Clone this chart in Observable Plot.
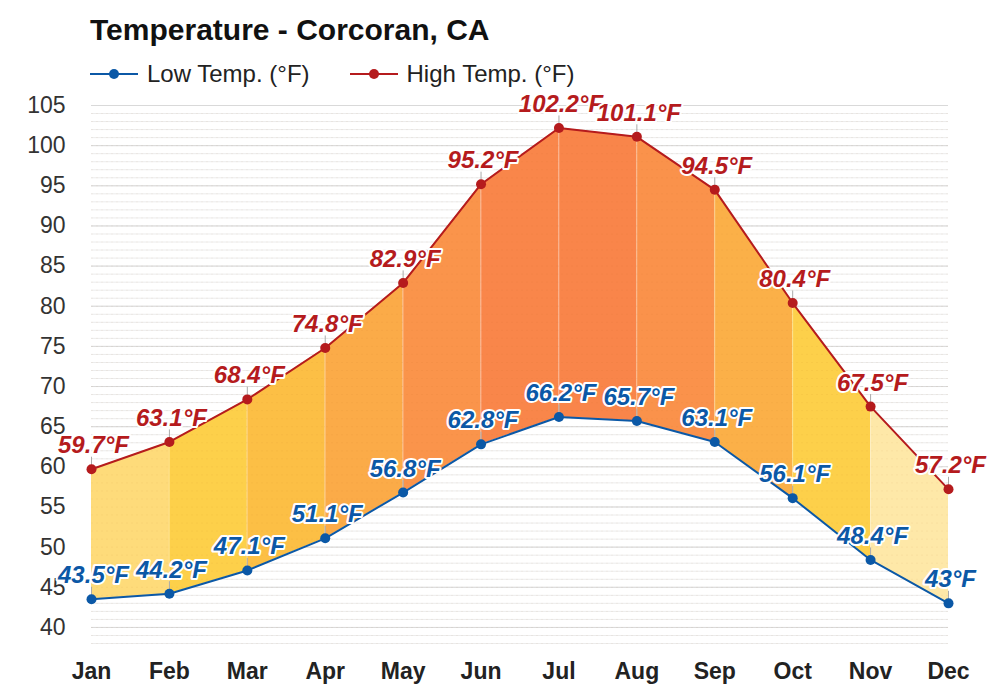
<!DOCTYPE html>
<html>
<head>
<meta charset="utf-8">
<script src="https://cdn.jsdelivr.net/npm/d3@7"></script>
<script src="https://cdn.jsdelivr.net/npm/@observablehq/plot@0.6"></script>
<style>
  html, body { margin: 0; padding: 0; background: #fff; }
  body { width: 1000px; height: 700px; overflow: hidden; font-family: "Liberation Sans", Arial, sans-serif; }
  #title { position: absolute; left: 90px; top: 13px; font-size: 30px; font-weight: bold; color: #111; }
  #legend { position: absolute; left: 90px; top: 60px; display: flex; align-items: center; font-size: 24px; color: #222; }
  .item { display: flex; align-items: center; margin-right: 40px; }
  .item svg { margin-right: 9px; }
  #chart { position: absolute; left: 0; top: 90px; }
</style>
</head>
<body>
<div id="title">Temperature - Corcoran, CA</div>
<div id="legend"></div>
<div id="chart"></div>
<script>
const months = ["Jan","Feb","Mar","Apr","May","Jun","Jul","Aug","Sep","Oct","Nov","Dec"];
const lowTemps = [43.5, 44.2, 47.1, 51.1, 56.8, 62.8, 66.2, 65.7, 63.1, 56.1, 48.4, 43.0];
const highTemps = [59.7, 63.1, 68.4, 74.8, 82.9, 95.2, 102.2, 101.1, 94.5, 80.4, 67.5, 57.2];
const segmentColors = ["#fedb7a","#fdd04a","#fcbf45","#fbab48","#fa944b","#f9864a","#f9854a","#fa924b","#fbb048","#fdd04a","#fee8a8"];
const yTicks = [40,45,50,55,60,65,70,75,80,85,90,95,100,105];

const lowColor = "#0b58a6";
const highColor = "#b51b1d";

const data = months.map((m, i) => ({month: m, low: lowTemps[i], high: highTemps[i]}));
const segRows = [];
for (let i = 0; i < months.length - 1; i++) {
  for (const j of [i, i + 1]) {
    segRows.push({seg: i, month: months[j], low: lowTemps[j], high: highTemps[j], color: segmentColors[i]});
  }
}
const minorTicks = d3.range(38, 105, 1);
const fmt = v => `${+v.toFixed(1)}°F`;

// legend
const legend = document.getElementById("legend");
[["Low Temp. (°F)", lowColor], ["High Temp. (°F)", highColor]].forEach(([label, c]) => {
  const div = document.createElement("div");
  div.className = "item";
  div.innerHTML = `<svg width="48" height="12"><line x1="0" x2="48" y1="6" y2="6" stroke="${c}" stroke-width="2"/><circle cx="24" cy="6" r="5" fill="${c}"/></svg><span>${label}</span>`;
  legend.appendChild(div);
});

const plot = Plot.plot({
  width: 1000,
  height: 600,
  marginLeft: 91,
  marginRight: 52,
  marginTop: 15,
  marginBottom: 47,
  style: {fontFamily: "'Liberation Sans', Arial, sans-serif", background: "white"},
  x: {type: "point", domain: months, padding: 0, round: false, label: null},
  y: {domain: [38, 105], label: null},
  color: {type: "identity"},
  marks: [
    Plot.ruleY(minorTicks, {stroke: "#ececec", strokeWidth: 1}),
    Plot.ruleY(yTicks, {stroke: "#d9d9d9", strokeWidth: 1}),
    Plot.areaY(segRows, {x: "month", y1: "low", y2: "high", z: "seg", fill: "color"}),
    Plot.ruleY(minorTicks, {stroke: "#b06020", strokeOpacity: 0.06, strokeDasharray: "2,3"}),
    Plot.ruleX(data.slice(1, -1), {x: "month", y1: "low", y2: "high", stroke: "white", strokeOpacity: 0.3}),
    Plot.axisY(yTicks, {tickSize: 0, tickPadding: 26, fontSize: 23, fill: "#333", label: null}),
    Plot.axisX({tickSize: 0, tickPadding: 19, fontSize: 23, fontWeight: "bold", fill: "#222", label: null}),
    Plot.ruleX(data, {x: "month", y1: "high", y2: d => d.high + 1.5, stroke: "#aaa", strokeWidth: 1}),
    Plot.ruleX(data, {x: "month", y1: "low", y2: d => d.low + 1.5, stroke: "#aaa", strokeWidth: 1}),
    Plot.line(data, {x: "month", y: "high", stroke: highColor, strokeWidth: 2}),
    Plot.line(data, {x: "month", y: "low", stroke: lowColor, strokeWidth: 2}),
    Plot.dot(data, {x: "month", y: "high", r: 5, fill: highColor}),
    Plot.dot(data, {x: "month", y: "low", r: 5, fill: lowColor}),
    Plot.text(data, {x: "month", y: "high", text: d => fmt(d.high), dy: -16, dx: 2, lineAnchor: "bottom",
      fontSize: 24, fontWeight: "bold", fontStyle: "italic", fill: highColor, stroke: "white", strokeWidth: 4}),
    Plot.text(data, {x: "month", y: "low", text: d => fmt(d.low), dy: -16, dx: 2, lineAnchor: "bottom",
      fontSize: 24, fontWeight: "bold", fontStyle: "italic", fill: lowColor, stroke: "white", strokeWidth: 4})
  ]
});
document.getElementById("chart").appendChild(plot);
</script>
</body>
</html>
